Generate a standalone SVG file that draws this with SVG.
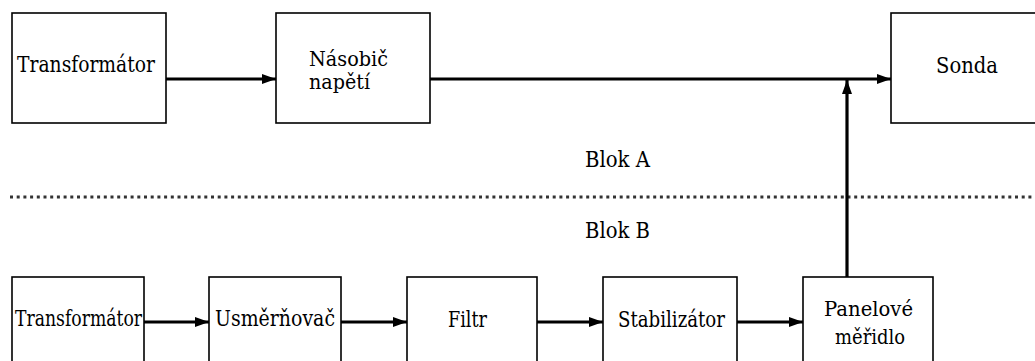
<svg xmlns="http://www.w3.org/2000/svg" width="1035" height="361" viewBox="0 0 1035 361">
<style>
.box{fill:#fff;stroke:#000;stroke-width:1.6}
.t{font-family:'DejaVu Serif','Liberation Serif',serif;font-size:22px;fill:#000}
.s{font-size:21px}
.c{stroke:#000;stroke-width:3.2;fill:none}
.dot{stroke:#333;stroke-width:3;stroke-dasharray:3 3.7}
</style>
<defs>
<marker id="ah" viewBox="0 0 14 10" refX="14" refY="5" markerWidth="14" markerHeight="10" markerUnits="userSpaceOnUse" orient="auto">
<path d="M0,0 L14,5 L0,10 Z" fill="#000"/>
</marker>
</defs>
<rect width="1035" height="361" fill="#fff"/>
<line class="dot" x1="10" y1="197" x2="1035" y2="197"/>
<text class="t" x="585" y="167" textLength="65" lengthAdjust="spacingAndGlyphs">Blok A</text>
<text class="t" x="585" y="238" textLength="65" lengthAdjust="spacingAndGlyphs">Blok B</text>
<g id="n-trafoA"><rect class="box" x="12" y="13" width="154" height="110"/><text class="t" x="17" y="72" textLength="138" lengthAdjust="spacingAndGlyphs">Transformátor</text></g>
<g id="n-nasobic"><rect class="box" x="276" y="13" width="154" height="110"/><text class="t s" x="309" y="66" textLength="79" lengthAdjust="spacingAndGlyphs">Násobič</text><text class="t s" x="309" y="89" textLength="61" lengthAdjust="spacingAndGlyphs">napětí</text></g>
<g id="n-sonda"><rect class="box" x="891" y="13" width="160" height="110"/><text class="t" x="936" y="73" textLength="62" lengthAdjust="spacingAndGlyphs">Sonda</text></g>
<g id="n-trafoB"><rect class="box" x="12" y="277" width="132" height="100"/><text class="t" x="15" y="326" textLength="127" lengthAdjust="spacingAndGlyphs">Transformátor</text></g>
<g id="n-usmer"><rect class="box" x="209" y="277" width="132" height="100"/><text class="t" x="215" y="326" textLength="120" lengthAdjust="spacingAndGlyphs">Usměrňovač</text></g>
<g id="n-filtr"><rect class="box" x="407" y="277" width="130" height="100"/><text class="t" x="448" y="327" textLength="39" lengthAdjust="spacingAndGlyphs">Filtr</text></g>
<g id="n-stab"><rect class="box" x="603" y="277" width="134" height="100"/><text class="t" x="618" y="327" textLength="107" lengthAdjust="spacingAndGlyphs">Stabilizátor</text></g>
<g id="n-panel"><rect class="box" x="803" y="277" width="130" height="100"/><text class="t s" x="824" y="316" textLength="89" lengthAdjust="spacingAndGlyphs">Panelové</text><text class="t s" x="835" y="344" textLength="70" lengthAdjust="spacingAndGlyphs">měřidlo</text></g>
<g id="connectors">
<line class="c" x1="166" y1="79" x2="276" y2="79" marker-end="url(#ah)"/>
<line class="c" x1="430" y1="79" x2="891" y2="79" marker-end="url(#ah)"/>
<line class="c" x1="847" y1="277" x2="847" y2="80" marker-end="url(#ah)"/>
<line class="c" x1="144" y1="322" x2="209" y2="322" marker-end="url(#ah)"/>
<line class="c" x1="341" y1="322" x2="407" y2="322" marker-end="url(#ah)"/>
<line class="c" x1="537" y1="322" x2="603" y2="322" marker-end="url(#ah)"/>
<line class="c" x1="737" y1="322" x2="803" y2="322" marker-end="url(#ah)"/>
</g>
</svg>
